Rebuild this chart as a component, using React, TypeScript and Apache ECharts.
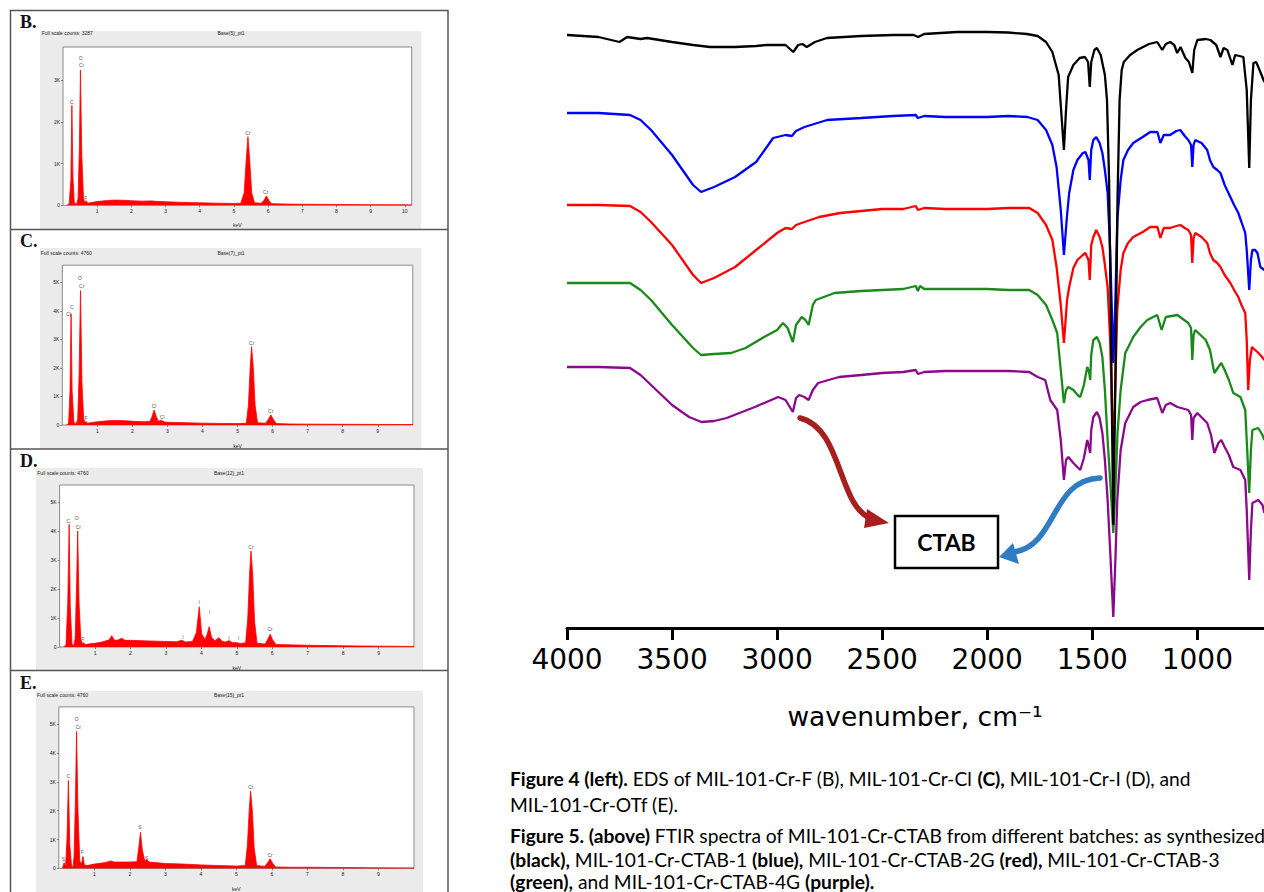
import React, { useEffect, useRef } from "react";
import * as echarts from "echarts";

// ---------------- EDS spectra (keV, counts) ----------------
const EDS_B: number[][] = [
  [0.12, 0], [0.18, 40], [0.23, 600], [0.26, 2400], [0.29, 700], [0.33, 60], [0.39, 20], [0.44, 150], [0.48, 1400],
  [0.51, 3250], [0.55, 1200], [0.6, 150], [0.65, 60], [0.68, 110], [0.72, 50], [0.8, 60], [1.0, 90], [1.3, 115],
  [1.5, 125], [1.8, 120], [2.0, 110], [2.3, 100], [2.6, 105], [2.7, 95], [3.0, 85], [3.5, 70], [4.0, 60], [4.5, 50],
  [5.0, 45], [5.2, 50], [5.3, 300], [5.36, 1100], [5.41, 1645], [5.46, 1100], [5.52, 300], [5.6, 60], [5.8, 50],
  [5.88, 120], [5.95, 225], [6.02, 120], [6.1, 40], [6.5, 30], [7, 25], [8, 20], [9, 15], [10, 12], [10.2, 10],
];
const EDS_C: number[][] = [
  [0.12, 0], [0.18, 60], [0.22, 1200], [0.25, 3900], [0.28, 1200], [0.33, 100], [0.39, 30], [0.44, 200], [0.48, 1800],
  [0.52, 4710], [0.56, 1500], [0.61, 200], [0.66, 80], [0.68, 120], [0.72, 60], [0.8, 80], [1.0, 110], [1.3, 150],
  [1.5, 160], [1.8, 150], [2.0, 130], [2.3, 115], [2.5, 120], [2.56, 300], [2.62, 525], [2.68, 300], [2.74, 130],
  [2.82, 170], [2.9, 110], [3.0, 95], [3.5, 80], [4.0, 65], [4.5, 55], [5.0, 50], [5.25, 60], [5.31, 700],
  [5.36, 2000], [5.4, 2745], [5.45, 2000], [5.5, 700], [5.57, 80], [5.8, 60], [5.88, 200], [5.95, 350], [6.02, 200],
  [6.1, 50], [6.5, 35], [7, 30], [8, 25], [9, 20], [10, 15],
];
const EDS_D: number[][] = [
  [0.12, 0], [0.18, 80], [0.23, 1500], [0.27, 4240], [0.3, 1400], [0.35, 100], [0.4, 40], [0.44, 300], [0.48, 2200],
  [0.51, 4010], [0.55, 1500], [0.6, 250], [0.65, 100], [0.68, 150], [0.72, 80], [0.8, 100], [1.0, 130], [1.2, 170],
  [1.4, 250], [1.47, 390], [1.55, 230], [1.65, 240], [1.75, 300], [1.85, 230], [2.0, 230], [2.5, 210], [3.0, 190],
  [3.3, 180], [3.45, 230], [3.55, 170], [3.75, 190], [3.86, 500], [3.94, 1390], [4.01, 450], [4.1, 260], [4.16, 420],
  [4.22, 700], [4.29, 330], [4.38, 220], [4.5, 320], [4.58, 200], [4.68, 170], [4.78, 220], [4.88, 150], [5.0, 150],
  [5.1, 120], [5.25, 150], [5.31, 1000], [5.36, 2500], [5.4, 3318], [5.45, 2500], [5.5, 900], [5.57, 130], [5.8, 100],
  [5.88, 280], [5.94, 440], [6.01, 250], [6.1, 90], [6.3, 80], [7, 60], [8, 40], [9, 30], [10, 20],
];
const EDS_E: number[][] = [
  [0.1, 0], [0.15, 200], [0.19, 60], [0.23, 1000], [0.27, 3050], [0.31, 800], [0.36, 80], [0.4, 50], [0.43, 400],
  [0.47, 2500], [0.5, 4745], [0.54, 2000], [0.59, 250], [0.64, 150], [0.68, 413], [0.72, 120], [0.8, 100], [1.0, 150],
  [1.3, 200], [1.47, 260], [1.55, 220], [1.8, 220], [2.0, 220], [2.2, 230], [2.25, 700], [2.3, 1250], [2.35, 650],
  [2.42, 260], [2.47, 300], [2.55, 220], [3.0, 170], [3.5, 150], [4.0, 120], [4.5, 100], [5.0, 80], [5.25, 100],
  [5.31, 800], [5.36, 2000], [5.4, 2680], [5.45, 2000], [5.5, 700], [5.57, 100], [5.8, 70], [5.88, 200], [5.95, 333],
  [6.02, 180], [6.1, 50], [6.5, 40], [7, 40], [8, 30], [9, 20], [10, 15],
];

// peak labels: [keV, counts, element]
const PEAKS_B: [number, number, string][] = [
  [0.26, 2490, "C"], [0.514, 3530, "O"], [0.543, 3370, "Cr"], [0.67, 170, "F"], [5.41, 1730, "Cr"], [5.93, 310, "Cr"],
];
const PEAKS_C: [number, number, string][] = [
  [0.269, 4150, "C"], [0.173, 3880, "Cl"], [0.506, 5140, "O"], [0.554, 4870, "Cr"], [0.678, 257, "F"],
  [2.618, 677, "Cl"], [2.855, 292, "Cl"], [5.405, 2886, "Cr"], [5.947, 491, "Cr"],
];
const PEAKS_D: [number, number, string][] = [
  [0.246, 4355, "C"], [0.483, 4448, "O"], [0.53, 4159, "Cr"], [0.652, 276, "F"], [3.477, 357, "I"],
  [3.938, 1567, "I"], [4.23, 1198, "I"], [4.777, 322, "I"], [5.05, 300, "I"], [5.4, 3468, "Cr"], [5.94, 611, "Cr"],
];
const PEAKS_E: [number, number, string][] = [
  [0.127, 333, "S"], [0.268, 3198, "C"], [0.504, 5182, "O"], [0.549, 4907, "Cr"], [0.662, 563, "F"],
  [2.287, 1423, "S"], [2.476, 367, "S"], [5.405, 2833, "Cr"], [5.95, 481, "Cr"],
];

// ---------------- FTIR spectra (wavenumber, transmittance a.u.) ----------------
const FTIR_BLACK: number[][] = [
  [4000, 597], [3850, 595], [3750, 590], [3714, 595], [3650, 593], [3619, 594], [3500, 590], [3400, 587], [3319, 585],
  [3200, 585], [3100, 586], [3049, 587], [2960, 587], [2923, 580], [2900, 587], [2880, 588], [2859, 585], [2820, 590],
  [2763, 594], [2600, 596], [2448, 597], [2350, 597], [2329, 595], [2300, 598], [2144, 600], [2000, 600], [1900, 599.5],
  [1811, 598], [1760, 596], [1720, 590], [1690, 580], [1660, 557], [1645, 512], [1635, 482], [1625, 522], [1615, 555],
  [1590, 567], [1560, 574], [1535, 575], [1520, 570], [1512, 545], [1505, 570], [1490, 582], [1478, 584], [1460, 577],
  [1440, 557], [1430, 532], [1420, 452], [1410, 282], [1400, 107], [1390, 252], [1380, 432], [1370, 532], [1360, 562],
  [1350, 570], [1320, 577], [1286, 582], [1230, 588], [1191, 590], [1167, 582], [1150, 588], [1129, 590], [1110, 587],
  [1096, 579], [1080, 585], [1057, 574], [1040, 570], [1024, 559], [1015, 582], [1000, 592], [960, 593], [938, 592],
  [910, 587], [890, 575], [875, 584], [857, 582], [833, 567], [820, 577], [800, 576], [781, 575], [765, 542], [753, 464],
  [745, 532], [733, 569], [720, 570], [700, 560], [685, 552], [681, 550],
];
const FTIR_BLUE: number[][] = [
  [4000, 519], [3850, 519], [3700, 517], [3650, 512], [3600, 502], [3500, 477], [3400, 447], [3362, 440], [3300, 445],
  [3200, 455], [3100, 470], [3019, 494], [2960, 497], [2930, 496], [2910, 501], [2870, 505], [2762, 512], [2600, 514],
  [2448, 516], [2340, 517], [2330, 514], [2300, 516], [2200, 515], [2000, 515], [1900, 516], [1809, 515], [1760, 512],
  [1720, 502], [1690, 487], [1670, 465], [1650, 422], [1635, 377], [1620, 417], [1610, 439], [1590, 462], [1571, 472],
  [1545, 479], [1533, 480], [1518, 472], [1512, 452], [1505, 482], [1495, 492], [1481, 495], [1465, 489], [1452, 479],
  [1440, 462], [1427, 439], [1415, 382], [1400, 269], [1390, 332], [1381, 412], [1365, 452], [1352, 472], [1330, 482],
  [1305, 489], [1260, 495], [1224, 500], [1190, 500], [1176, 489], [1160, 497], [1130, 497], [1100, 501], [1081, 502],
  [1060, 496], [1043, 492], [1030, 487], [1024, 465], [1018, 487], [1010, 492], [980, 489], [953, 482], [940, 472],
  [924, 465], [905, 462], [890, 459], [870, 447], [843, 435], [825, 427], [805, 419], [790, 410], [772, 399], [765, 382],
  [753, 342], [745, 372], [738, 382], [725, 382], [714, 379], [700, 365], [681, 362],
];
const FTIR_RED: number[][] = [
  [4000, 427], [3850, 427], [3700, 426], [3650, 420], [3600, 410], [3500, 387], [3400, 357], [3362, 349], [3300, 354],
  [3200, 365], [3100, 382], [3000, 399], [2960, 404], [2930, 403], [2910, 407], [2870, 410], [2800, 415], [2700, 419],
  [2600, 421], [2500, 423], [2400, 423], [2340, 426], [2330, 422], [2300, 424], [2200, 423], [2000, 423], [1900, 424],
  [1800, 424], [1760, 419], [1720, 407], [1690, 392], [1670, 365], [1650, 327], [1635, 289], [1620, 332], [1610, 345],
  [1590, 364], [1571, 372], [1545, 377], [1533, 379], [1518, 372], [1512, 352], [1505, 387], [1495, 395], [1481, 402],
  [1465, 395], [1452, 385], [1440, 367], [1427, 345], [1415, 292], [1400, 175], [1390, 252], [1381, 322], [1365, 362],
  [1352, 379], [1330, 389], [1305, 395], [1260, 400], [1224, 405], [1190, 405], [1176, 394], [1160, 404], [1130, 404],
  [1100, 406], [1081, 407], [1060, 404], [1043, 402], [1030, 397], [1024, 369], [1018, 394], [1010, 399], [980, 395],
  [953, 389], [940, 379], [924, 372], [905, 369], [890, 365], [870, 357], [843, 349], [825, 342], [805, 335], [790, 327],
  [772, 319], [765, 292], [758, 242], [750, 272], [740, 285], [725, 282], [714, 280], [700, 277], [681, 272],
];
const FTIR_GREEN: number[][] = [
  [4000, 349], [3850, 349], [3700, 349], [3650, 342], [3600, 332], [3500, 307], [3400, 284], [3362, 277], [3300, 278],
  [3219, 279], [3150, 284], [3062, 295], [3000, 302], [2972, 309], [2950, 304], [2925, 290], [2910, 307], [2883, 315],
  [2865, 312], [2850, 307], [2830, 327], [2816, 332], [2727, 339], [2600, 341], [2500, 342], [2400, 343], [2340, 346],
  [2330, 341], [2320, 346], [2300, 343], [2200, 343], [2000, 343], [1900, 342], [1800, 342], [1760, 337], [1720, 327],
  [1690, 312], [1667, 299], [1650, 262], [1635, 229], [1625, 242], [1614, 245], [1590, 242], [1570, 237], [1557, 235],
  [1540, 247], [1524, 265], [1515, 260], [1510, 252], [1505, 277], [1495, 292], [1478, 295], [1465, 289], [1452, 275],
  [1440, 242], [1427, 192], [1415, 152], [1400, 99], [1390, 142], [1380, 199], [1365, 242], [1343, 279], [1305, 295],
  [1270, 305], [1238, 312], [1191, 317], [1170, 302], [1150, 315], [1095, 317], [1043, 309], [1030, 304], [1024, 272],
  [1018, 297], [1010, 302], [960, 292], [940, 282], [919, 259], [900, 265], [886, 269], [870, 262], [850, 252],
  [829, 239], [795, 235], [772, 222], [765, 192], [753, 139], [745, 182], [738, 202], [710, 204], [690, 197], [681, 192],
];
const FTIR_PURPLE: number[][] = [
  [4000, 265], [3850, 265], [3700, 264], [3650, 257], [3600, 247], [3500, 227], [3419, 215], [3360, 210], [3300, 211],
  [3240, 214], [3106, 225], [2995, 235], [2960, 232], [2925, 220], [2910, 234], [2895, 237], [2870, 235], [2850, 232],
  [2830, 242], [2805, 249], [2705, 255], [2600, 257], [2500, 259], [2400, 260], [2340, 262], [2330, 258], [2300, 260],
  [2200, 261], [2000, 261], [1900, 261], [1800, 260], [1760, 255], [1724, 252], [1700, 232], [1667, 222], [1650, 192],
  [1635, 152], [1625, 172], [1614, 175], [1590, 169], [1557, 162], [1540, 174], [1524, 192], [1515, 184], [1510, 179],
  [1505, 202], [1495, 215], [1478, 220], [1465, 214], [1452, 199], [1440, 172], [1427, 132], [1415, 82], [1400, 15],
  [1390, 72], [1381, 132], [1365, 182], [1343, 209], [1305, 225], [1270, 230], [1238, 232], [1191, 234], [1167, 219],
  [1150, 227], [1129, 229], [1095, 225], [1043, 222], [1030, 217], [1024, 192], [1018, 214], [1000, 219], [953, 209],
  [935, 197], [919, 179], [900, 189], [886, 192], [870, 185], [850, 177], [829, 165], [795, 162], [772, 152], [765, 122],
  [753, 52], [745, 102], [738, 129], [710, 132], [690, 127], [681, 119],
];

const FTIR_TICKS = [4000, 3500, 3000, 2500, 2000, 1500, 1000];

const CAPTIONS = [
  "{b|Figure 4 (left).} EDS of MIL-101-Cr-F (B), MIL-101-Cr-Cl {b|(C),} MIL-101-Cr-I (D), and",
  "MIL-101-Cr-OTf (E).",
  "{b|Figure 5. (above)} FTIR spectra of MIL-101-Cr-CTAB from different batches: as synthesized",
  "{b|(black),} MIL-101-Cr-CTAB-1 {b|(blue),} MIL-101-Cr-CTAB-2G {b|(red),} MIL-101-Cr-CTAB-3",
  "{b|(green),} and MIL-101-Cr-CTAB-4G {b|(purple).}",
];

const EDS_PANELS = [
  { key: "B.", data: EDS_B, peaks: PEAKS_B, ymax: 3800, xmax: 10.2, counts: "Full scale counts: 3287", base: "Base(5)_pt1" },
  { key: "C.", data: EDS_C, peaks: PEAKS_C, ymax: 5600, xmax: 10, counts: "Full scale counts: 4760", base: "Base(7)_pt1" },
  { key: "D.", data: EDS_D, peaks: PEAKS_D, ymax: 5600, xmax: 10, counts: "Full scale counts: 4760", base: "Base(12)_pt1" },
  { key: "E.", data: EDS_E, peaks: PEAKS_E, ymax: 5600, xmax: 10, counts: "Full scale counts: 4760", base: "Base(15)_pt1" },
];

// layout of each EDS panel (pixels)
const EDS_LAYOUT = [
  { left: 63, top: 47, width: 348.7, height: 158.3, gap: 17.5, gray: [40, 31, 381, 198.5], letterY: 21.5, headY: 33.3, countsX: 41.7, baseX: 231 },
  { left: 62.3, top: 265.2, width: 350.5, height: 159.8, gap: 18.3, gray: [40, 248, 381, 201], letterY: 240.5, headY: 253.3, countsX: 40.7, baseX: 231 },
  { left: 59.6, top: 485, width: 354.4, height: 162, gap: 18.7, gray: [36, 468, 387, 202.5], letterY: 460.5, headY: 473.3, countsX: 37.3, baseX: 229 },
  { left: 58.8, top: 706.9, width: 355.2, height: 162.8, gap: 17.6, gray: [36, 691, 387, 201], letterY: 682.5, headY: 695, countsX: 37, baseX: 229 },
];

function buildOption(): any {
  const tiny = { fontSize: 5, fontFamily: "Liberation Sans, Arial, sans-serif", color: "#222" };
  const grid: any[] = [];
  const xAxis: any[] = [];
  const yAxis: any[] = [];
  const series: any[] = [];
  const graphic: any[] = [];

  EDS_PANELS.forEach((p, i) => {
    const L = EDS_LAYOUT[i];
    grid.push({
      left: L.left, top: L.top, width: L.width, height: L.height, show: true, backgroundColor: "#fff",
      borderColor: "#8a8a8a", borderWidth: 1, z: 1, containLabel: false,
    });
    xAxis.push({
      gridIndex: i, type: "value", min: 0, max: p.xmax, interval: 1, z: 3,
      name: "keV", nameLocation: "middle", nameGap: L.gap, nameTextStyle: { ...tiny },
      axisLine: { show: false },
      axisTick: { show: true, length: 2, lineStyle: { color: "#444", width: 0.6 } },
      axisLabel: { ...tiny, margin: 3, showMinLabel: false, showMaxLabel: false },
      splitLine: { show: false },
    });
    yAxis.push({
      gridIndex: i, type: "value", min: 0, max: p.ymax, interval: 1000, z: 3,
      axisLine: { show: false },
      axisTick: { show: true, length: 2, lineStyle: { color: "#444", width: 0.6 } },
      axisLabel: { ...tiny, margin: 3, showMaxLabel: false, formatter: (v: number) => (v === 0 ? "0" : v / 1000 + "K") },
      splitLine: { show: false },
    });
    series.push({
      type: "line", xAxisIndex: i, yAxisIndex: i, data: p.data, showSymbol: false, silent: true, z: 2,
      lineStyle: { color: "#ff0000", width: 0.8 }, areaStyle: { color: "#ff0000", opacity: 1 },
    });
    series.push({
      type: "scatter", xAxisIndex: i, yAxisIndex: i, silent: true, z: 4, symbolSize: 1,
      itemStyle: { color: "rgba(0,0,0,0)" },
      data: p.peaks.map(([x, y, t]) => ({ value: [x, y], name: t })),
      label: {
        show: true, position: "top", distance: -3, formatter: "{b}", fontSize: 5,
        fontFamily: "Liberation Sans, Arial, sans-serif", color: "#222", textBorderWidth: 0,
      },
    });
    const g = L.gray;
    graphic.push({ type: "rect", z: 0, silent: true, shape: { x: g[0], y: g[1], width: g[2], height: g[3] }, style: { fill: "#ebebeb" } });
    graphic.push({
      type: "text", z: 5, silent: true, x: 20, y: L.letterY,
      style: { text: p.key, fontFamily: "Liberation Serif, Times New Roman, serif", fontWeight: "bold", fontSize: 18, fill: "#111", verticalAlign: "middle" },
    });
    graphic.push({
      type: "text", z: 5, silent: true, x: L.countsX, y: L.headY,
      style: { text: p.counts, fontSize: 5, fontFamily: "Liberation Sans, Arial, sans-serif", fill: "#222", verticalAlign: "middle" },
    });
    graphic.push({
      type: "text", z: 5, silent: true, x: L.baseX, y: L.headY,
      style: { text: p.base, fontSize: 5, fontFamily: "Liberation Sans, Arial, sans-serif", fill: "#222", align: "center", verticalAlign: "middle" },
    });
  });

  // EDS frame
  graphic.push({ type: "rect", z: 6, silent: true, shape: { x: 10.5, y: 10.5, width: 437.5, height: 900 }, style: { fill: "none", stroke: "#555", lineWidth: 1.5 } });
  [229.5, 449, 670.5].forEach((y) => {
    graphic.push({ type: "line", z: 6, silent: true, shape: { x1: 10.5, y1: y, x2: 448, y2: y }, style: { stroke: "#555", lineWidth: 1.5 } });
  });

  // FTIR grid (extends past the visible right edge, as in the cropped original)
  grid.push({ left: 567, top: 28, width: 735.4, height: 600, containLabel: false, show: false });
  xAxis.push({
    gridIndex: 4, type: "value", inverse: true, min: 500, max: 4000, interval: 500,
    axisLine: { show: true, onZero: false, lineStyle: { color: "#000", width: 3 } },
    axisTick: { show: true, length: 12, lineStyle: { color: "#000", width: 3 } },
    axisLabel: {
      show: true, margin: 17, fontSize: 28, fontFamily: "DejaVu Sans, sans-serif", color: "#000",
      formatter: (v: number) => (FTIR_TICKS.includes(v) ? String(v) : ""),
    },
    splitLine: { show: false },
  });
  yAxis.push({ gridIndex: 4, type: "value", min: 4, max: 604, show: false });

  const ftir = [
    { data: FTIR_PURPLE, color: "#8a0a8a" },
    { data: FTIR_GREEN, color: "#1a8a1a" },
    { data: FTIR_RED, color: "#ff0000" },
    { data: FTIR_BLUE, color: "#0000ff" },
    { data: FTIR_BLACK, color: "#000000" },
  ];
  ftir.forEach((s, k) => {
    series.push({
      type: "line", xAxisIndex: 4, yAxisIndex: 4, data: s.data, showSymbol: false, silent: true, z: 2 + k * 0.01,
      lineStyle: { color: s.color, width: 2.3 },
    });
  });

  // arrows and CTAB box
  graphic.push({
    type: "bezierCurve", z: 7, silent: true,
    shape: { x1: 800, y1: 418, cpx1: 842, cpy1: 428, cpx2: 838, cpy2: 505, x2: 870, y2: 518 },
    style: { stroke: "#a61e1e", lineWidth: 5.5, fill: "none", lineCap: "round" },
  });
  graphic.push({ type: "polygon", z: 7, silent: true, shape: { points: [[867, 509], [889, 523], [864, 528]] }, style: { fill: "#a61e1e" } });
  graphic.push({
    type: "bezierCurve", z: 7, silent: true,
    shape: { x1: 1100, y1: 478, cpx1: 1050, cpy1: 480, cpx2: 1058, cpy2: 545, x2: 1014, y2: 552 },
    style: { stroke: "#2f7cc4", lineWidth: 5.5, fill: "none", lineCap: "round" },
  });
  graphic.push({ type: "polygon", z: 7, silent: true, shape: { points: [[999, 557], [1013, 543], [1019, 564]] }, style: { fill: "#2f7cc4" } });
  graphic.push({ type: "rect", z: 7, silent: true, shape: { x: 895, y: 516, width: 103, height: 52 }, style: { fill: "#fff", stroke: "#000", lineWidth: 2.5 } });
  graphic.push({
    type: "text", z: 8, silent: true, x: 946.5, y: 542,
    style: { text: "CTAB", fontFamily: "Lato, sans-serif", fontWeight: "bold", fontSize: 23, fill: "#000", align: "center", verticalAlign: "middle" },
  });
  graphic.push({
    type: "text", z: 8, silent: true, x: 915, y: 716,
    style: { text: "wavenumber, cm\u207B\u00B9", fontFamily: "DejaVu Sans, sans-serif", fontSize: 26.5, fill: "#000", align: "center", verticalAlign: "middle" },
  });

  // captions
  const capY = [778, 804, 835, 859.5, 881];
  CAPTIONS.forEach((t, i) => {
    graphic.push({
      type: "text", z: 8, silent: true, x: 510, y: capY[i],
      style: {
        text: t, fontFamily: "Lato, sans-serif", fontSize: 19.2, fill: "#000", verticalAlign: "middle",
        rich: { b: { fontFamily: "Lato, sans-serif", fontSize: 19.2, fontWeight: "bold", fill: "#000" } },
      },
    });
  });

  return { animation: false, backgroundColor: "#fff", grid, xAxis, yAxis, series, graphic };
}

export default function App() {
  const ref = useRef<HTMLDivElement>(null);
  useEffect(() => {
    if (!ref.current) return;
    const chart = echarts.init(ref.current, null, { renderer: "svg" });
    chart.setOption(buildOption());
    return () => chart.dispose();
  }, []);
  return (
    <div style={{ position: "absolute", left: 0, top: 0, width: 1264, height: 892, overflow: "hidden", background: "#fff" }}>
      <div ref={ref} style={{ position: "absolute", left: 0, top: 0, width: 1320, height: 892 }} />
    </div>
  );
}
